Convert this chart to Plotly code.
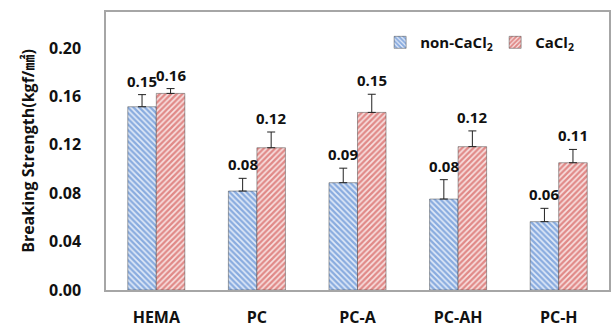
import plotly.graph_objects as go

# Breaking strength of hydrogel samples with and without CaCl2
categories = ["HEMA", "PC", "PC-A", "PC-AH", "PC-H"]
non_cacl2 = [0.1515, 0.0818, 0.0887, 0.0752, 0.0565]
non_cacl2_err = [0.010, 0.0105, 0.012, 0.016, 0.011]
cacl2 = [0.1625, 0.1176, 0.1468, 0.1185, 0.1052]
cacl2_err = [0.004, 0.013, 0.015, 0.013, 0.011]
y_ticks = [0.00, 0.04, 0.08, 0.12, 0.16, 0.20]

FONT = "Open Sans"

fig = go.Figure()

series = [
    ("non-CaCl<sub>2</sub>", non_cacl2, non_cacl2_err, "#2f6cc6", "#e3ebf8", "\\"),
    ("CaCl<sub>2</sub>", cacl2, cacl2_err, "#c9302c", "#f8e3e3", "/"),
]

for name, vals, errs, fg, bg, shape in series:
    fig.add_trace(go.Bar(
        x=categories, y=vals, name=name,
        marker=dict(
            color=bg,
            pattern=dict(shape=shape, fgcolor=fg, bgcolor=bg,
                         size=4, solidity=0.6, fillmode="overlay"),
            line=dict(width=0.8, color="rgba(50,50,50,0.55)"),
        ),
        error_y=dict(type="data", array=errs, symmetric=False, arrayminus=[0] * len(errs),
                     color="#222222", thickness=1, width=4),
    ))

# value labels above each error bar
half = 14.3
for (name, vals, errs, fg, bg, shape), sx in zip(series, (-half, half)):
    for c, v, e in zip(categories, vals, errs):
        fig.add_annotation(
            x=c, y=v + e, text=f"{v:.2f}", showarrow=False,
            xshift=sx, yshift=14, yanchor="middle",
            font=dict(family=FONT, size=15, color="#111111", weight="bold"),
        )

fig.update_layout(
    width=615, height=327,
    margin=dict(l=106, r=6, t=12, b=37, autoexpand=False),
    paper_bgcolor="white", plot_bgcolor="white",
    barmode="group", bargap=0.433, bargroupgap=0,
    font=dict(family=FONT, color="#111111"),
    showlegend=True,
    legend=dict(
        orientation="h", x=0.545, y=0.89, xanchor="left", yanchor="middle",
        font=dict(family=FONT, size=15, color="#111111", weight="bold"),
        bgcolor="rgba(0,0,0,0)", itemwidth=30, entrywidth=70,
        tracegroupgap=0,
    ),
    xaxis=dict(
        showline=True, linecolor="#a6a6a6", linewidth=1.5, mirror=True,
        showgrid=False, ticks="", ticklabelstandoff=12,
        tickfont=dict(family=FONT, size=16, color="#111111", weight="bold"),
    ),
    yaxis=dict(
        range=[0, 0.2298], tickvals=y_ticks, tickformat=".2f",
        showline=True, linecolor="#a6a6a6", linewidth=1.5, mirror=True,
        showgrid=False, zeroline=False, ticks="", ticklabelstandoff=20,
        tickfont=dict(family=FONT, size=16, color="#111111", weight="bold"),
        title=dict(text="Breaking Strength(kgf/㎟)", standoff=10,
                   font=dict(family=FONT + ", Noto Sans CJK KR", size=16,
                             color="#111111", weight="bold")),
    ),
)

fig.write_html("out.html")
